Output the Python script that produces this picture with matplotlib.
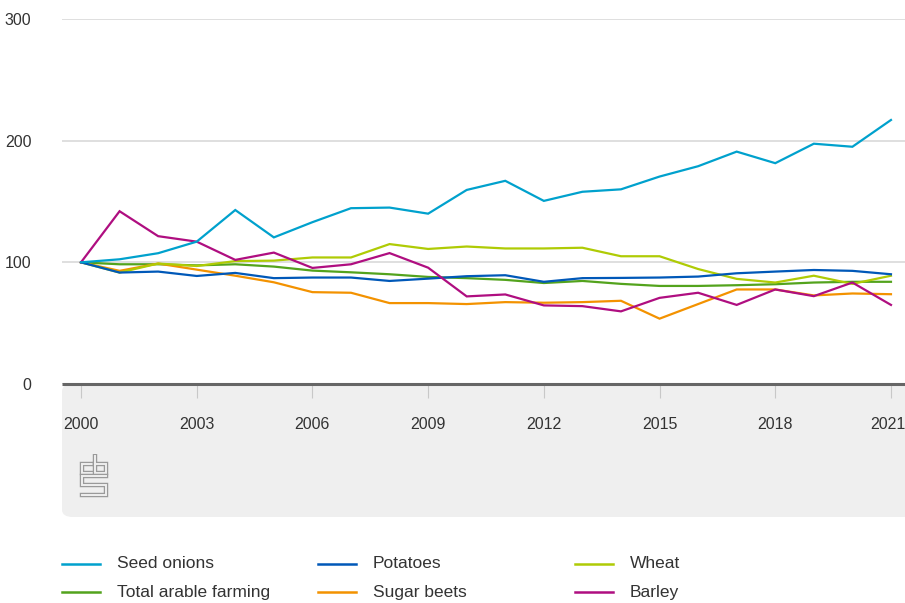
import matplotlib
matplotlib.use("Agg")
import matplotlib.pyplot as plt
from matplotlib.patches import FancyBboxPatch
from matplotlib.lines import Line2D

plt.rcParams['font.family'] = ['Liberation Sans', 'DejaVu Sans']

years = list(range(2000, 2022))
seed_onions = [100, 102.5, 107.5, 117, 143, 120.5, 133, 144.5, 145, 140, 159.5, 167,
               150.5, 158, 160, 170.5, 179, 191, 181.5, 197.5, 195, 217]
potatoes = [100, 91.6, 92.4, 88.8, 91.3, 87, 87.5, 87.5, 84.7, 86.6, 88.6, 89.4,
            84, 87, 87.2, 87.5, 88.3, 91, 92.4, 93.7, 93, 90.2]
wheat = [100, 91.6, 99, 97, 101, 101.4, 104, 104, 115, 111, 113, 111.4,
         111.4, 112, 105, 105, 94.5, 86.4, 83.4, 89, 82.3, 89]
total_arable = [100, 98.4, 98.4, 97.5, 98.4, 96.5, 93.2, 91.8, 90.2, 88, 87, 85.6,
                83, 84.7, 82.3, 80.6, 80.6, 81.2, 82, 83.4, 84, 84]
sugar_beets = [100, 93, 99, 94, 89, 83.6, 75.5, 75, 66.5, 66.5, 65.7, 67.3,
               66.8, 67.3, 68.4, 53.7, 65.7, 77.7, 77.7, 72.8, 74.4, 73.8]
barley = [100, 142, 121.5, 117, 102, 108, 95.4, 98.4, 107.6, 95.6, 72, 73.6,
          64.6, 64, 59.7, 70.8, 75, 65, 77.7, 72.2, 83.4, 65]

tick_years = [2000, 2003, 2006, 2009, 2012, 2015, 2018, 2021]
tick_labels = ["2000", "2003", "2006", "2009", "2012", "2015", "2018", "2021*"]
y_ticks = [0, 100, 200, 300]

series = [
    ("Seed onions", seed_onions, "#00a1cd"),
    ("Total arable farming", total_arable, "#53a31d"),
    ("Potatoes", potatoes, "#0058b8"),
    ("Sugar beets", sugar_beets, "#f39200"),
    ("Wheat", wheat, "#afcb05"),
    ("Barley", barley, "#af0e80"),
]
draw_order = ["Total arable farming", "Sugar beets", "Wheat", "Potatoes", "Barley", "Seed onions"]

W, H = 905, 603
fig = plt.figure(figsize=(W / 100, H / 100), dpi=100)

# grey panel behind x-axis labels
panel = FancyBboxPatch((62 / W, (H - 517) / H), (W + 20 - 62) / W, (517 - 384) / H,
                       boxstyle="round,pad=0,rounding_size=0.012",
                       transform=fig.transFigure, facecolor="#efefef", edgecolor="none",
                       zorder=-5)
fig.patches.append(panel)

ax = fig.add_axes([62 / W, (H - 384) / H, 1 - 62 / W, (384 - 19) / H])
ax.set_zorder(2)
ax.set_facecolor("none")
x0 = 2000 - 19 / 38.57
x1 = 2000 + (905 - 81) / 38.57
ax.set_xlim(x0, x1)
ax.set_ylim(0, 300)

lookup = {n: (v, c) for n, v, c in series}
for name in draw_order:
    v, c = lookup[name]
    ax.plot(years, v, color=c, lw=1.6, solid_joinstyle="miter", zorder=3)

for s in ["top", "right", "left"]:
    ax.spines[s].set_visible(False)
ax.spines["bottom"].set_color("#666666")
ax.spines["bottom"].set_linewidth(2.2)
ax.spines["bottom"].set_capstyle("butt")
ax.spines["bottom"].set_zorder(4)

ax.set_yticks(y_ticks)
ax.set_yticklabels([str(t) for t in y_ticks])
ax.tick_params(axis="y", length=0, pad=22, labelsize=11.5, labelcolor="#333333")
ax.yaxis.grid(True, color="#dcdcdc", lw=1.3)
ax.set_axisbelow(True)

ax.set_xticks(tick_years)
ax.set_xticklabels(tick_labels)
ax.tick_params(axis="x", length=10, width=0.8, color="#c8c8c8", pad=14,
               labelsize=11.5, labelcolor="#333333")

# cbs logo (approximate)
lax = fig.add_axes([79 / W, (H - 498) / H, 30 / W, 44 / H])
lax.set_zorder(3)
lax.set_xlim(-0.3, 6.3)
lax.set_ylim(-0.3, 8.3)
lax.axis("off")
logo_paths = [
    [(2.7, 6.4), (0.3, 6.4), (0.3, 4.6), (2.7, 4.6)],
    [(3.3, 7.9), (3.3, 4.6), (5.7, 4.6), (5.7, 6.4), (3.3, 6.4)],
    [(5.7, 4.0), (0.3, 4.0), (0.3, 2.2), (5.7, 2.2), (5.7, 0.3), (0.3, 0.3)],
]
for p in logo_paths:
    xs, ys = zip(*p)
    lax.plot(xs, ys, color="#9a9a9a", lw=3.2, solid_joinstyle="miter")
    lax.plot(xs, ys, color="#efefef", lw=1.4, solid_joinstyle="miter")

# legend (manual placement)
col_x = [62, 318, 575]
row_y = [564, 592]
for i, (name, v, c) in enumerate(series):
    col, row = i // 2, i % 2
    xl = col_x[col]
    yl = (H - row_y[row]) / H
    fig.add_artist(Line2D([xl / W, (xl + 38) / W], [yl, yl], color=c, lw=1.8,
                          transform=fig.transFigure))
    fig.text((xl + 55) / W, yl, name, fontsize=12.5, color="#333333",
             va="center", ha="left")

fig.savefig("out.png", dpi=100)
